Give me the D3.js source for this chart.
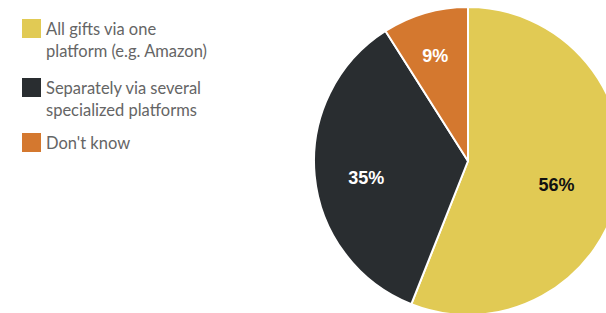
<!DOCTYPE html>
<html>
<head>
<meta charset="utf-8">
<script src="https://cdn.jsdelivr.net/npm/d3@7"></script>
<style>
  html, body { margin: 0; padding: 0; background: #fff; }
  svg { display: block; }
  .legend text { font-family: Lato, "Noto Sans", sans-serif; font-size: 16.5px; fill: #656565; }
  .slice-label { font-family: "Liberation Sans", Arial, sans-serif; font-size: 18px; font-weight: bold; }
</style>
</head>
<body>
<div id="chart"></div>
<script>
// data
const categories = ['All gifts via one platform (e.g. Amazon)', 'Separately via several specialized platforms', "Don't know"];
const legendLines = [['All gifts via one', 'platform (e.g. Amazon)'], ['Separately via several', 'specialized platforms'], ["Don't know"]];
const values = [56, 35, 9];
const colors = ['#e1ca54', '#292d30', '#d4782f'];
const labelColors = ['#111111', '#ffffff', '#ffffff'];

const width = 606, height = 313;
const cx = 468, cy = 161, radius = 154;

const svg = d3.select('#chart').append('svg')
    .attr('width', width)
    .attr('height', height);

const data = values.map((v, i) => ({ name: categories[i], value: v, i: i }));

const pie = d3.pie().sort(null).value(d => d.value);
const arc = d3.arc().innerRadius(0).outerRadius(radius);
const arcs = pie(data);
const total = d3.sum(values);

const g = svg.append('g').attr('transform', 'translate(' + cx + ',' + cy + ')');

g.selectAll('.slice')
    .data(arcs)
    .join('path')
    .attr('class', 'slice')
    .attr('d', arc)
    .attr('fill', d => colors[d.data.i])
    .attr('stroke', '#fff')
    .attr('stroke-width', 2)
    .attr('stroke-linejoin', 'round');

// smaller slices get their label pushed further out; text top sits on the point
function labelPos(d) {
    const frac = d.data.value / total;
    const r = radius * (0.794 - 0.373 * frac);
    const a = (d.startAngle + d.endAngle) / 2;
    return [Math.sin(a) * r, -Math.cos(a) * r];
}

g.selectAll('.slice-label')
    .data(arcs)
    .join('text')
    .attr('class', 'slice-label')
    .attr('x', d => labelPos(d)[0])
    .attr('y', d => labelPos(d)[1])
    .attr('dy', '0.72em')
    .attr('text-anchor', 'middle')
    .attr('fill', d => labelColors[d.data.i])
    .text(d => d.data.value + '%');

// legend
const legendY = d3.scaleOrdinal().domain(d3.range(categories.length)).range([19, 78, 133]);
const legend = svg.append('g').attr('class', 'legend');
const item = legend.selectAll('g')
    .data(data)
    .join('g')
    .attr('transform', d => 'translate(22,' + legendY(d.i) + ')');

item.append('rect')
    .attr('width', 19)
    .attr('height', 19)
    .attr('fill', d => colors[d.i]);

item.append('text')
    .selectAll('tspan')
    .data(d => legendLines[d.i])
    .join('tspan')
    .attr('x', 24)
    .attr('y', (d, j) => 16 + j * 21.5)
    .text(d => d);
</script>
</body>
</html>
